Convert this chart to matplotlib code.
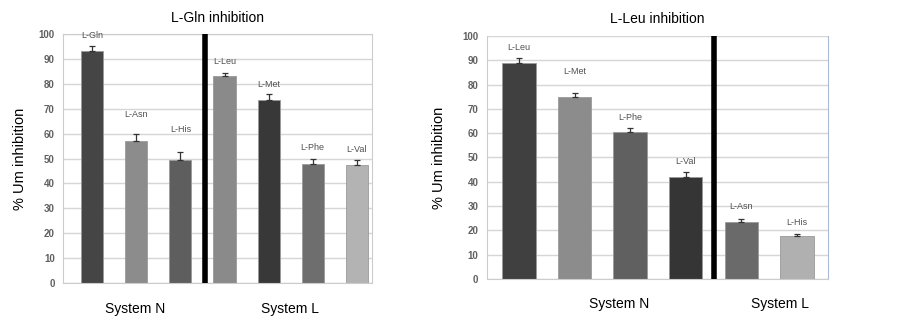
import matplotlib.pyplot as plt
import numpy as np

plt.rcParams['font.family'] = ['Liberation Sans', 'DejaVu Sans']

# left panel: L-Gln inhibition
gln_labels = ['L-Gln', 'L-Asn', 'L-His', 'L-Leu', 'L-Met', 'L-Phe', 'L-Val']
gln_values = [93, 57, 49.5, 83, 73.5, 48, 47.5]
gln_errors = [2, 3, 3, 1.5, 2.5, 2, 2]
gln_colors = ['#454545', '#8c8c8c', '#5e5e5e', '#8a8a8a', '#383838', '#6e6e6e', '#b3b3b3']
gln_label_pad = [2.5, 6, 7.5, 2.5, 2, 2.5, 2.5]

# right panel: L-Leu inhibition
leu_labels = ['L-Leu', 'L-Met', 'L-Phe', 'L-Val', 'L-Asn', 'L-His']
leu_values = [89, 75, 60.5, 42, 23.5, 17.5]
leu_errors = [2, 1.5, 1.5, 2, 1, 1]
leu_colors = ['#404040', '#8c8c8c', '#606060', '#353535', '#6a6a6a', '#b0b0b0']
leu_label_pad = [2.4, 7, 2.6, 2.5, 3.5, 3]

yticks = list(range(0, 101, 10))

fig = plt.figure(figsize=(9.03, 3.21), dpi=100)
ax1 = fig.add_axes([0.0698, 0.118, 0.342, 0.776])
ax2 = fig.add_axes([0.539, 0.131, 0.378, 0.757])


def draw_panel(ax, labels, values, errors, colors, pads, width, split, xlim, title, sys_n_x, sys_l_x):
    x = np.arange(len(values))
    ax.set_axisbelow(True)
    ax.grid(axis='y', color='#d6d6d6', linewidth=1)
    ax.bar(x, values, width=width, color=colors, edgecolor='#9a9a9a', linewidth=0.6, zorder=2)
    ax.errorbar(x, values, yerr=[np.zeros(len(errors)), errors], fmt='none',
                ecolor='#333333', elinewidth=0.9, capsize=2, capthick=0.9, zorder=3)
    for xi, v, e, p, lab in zip(x, values, errors, pads, labels):
        ax.text(xi, v + e + p, lab, ha='center', va='bottom', fontsize=6.5, color='#505050')
    ax.plot([split, split], [0, 100], color='black', linewidth=4, solid_capstyle='butt', zorder=4)
    ax.set_xlim(*xlim)
    ax.set_ylim(0, 100)
    ax.set_yticks(yticks)
    ax.set_xticks([])
    ax.tick_params(axis='y', length=0, labelsize=7, labelcolor='#606060', pad=6)
    for t in ax.get_yticklabels():
        t.set_fontweight('bold')
    for s in ax.spines.values():
        s.set_color('#cccccc')
        s.set_linewidth(0.8)
    ax.set_title(title, fontsize=10, pad=9)
    ax.set_ylabel('% Um inhibition', fontsize=10.5)
    ax.text(sys_n_x, -0.075, 'System N', transform=ax.transAxes, ha='center', va='top', fontsize=10)
    ax.text(sys_l_x, -0.075, 'System L', transform=ax.transAxes, ha='center', va='top', fontsize=10)


draw_panel(ax1, gln_labels, gln_values, gln_errors, gln_colors, gln_label_pad,
           0.5, 2.56, (-0.66, 6.34), 'L-Gln inhibition', 0.233, 0.735)
ax1.yaxis.labelpad = 8

draw_panel(ax2, leu_labels, leu_values, leu_errors, leu_colors, leu_label_pad,
           0.6, 3.5, (-0.58, 5.56), 'L-Leu inhibition', 0.387, 0.859)
ax2.yaxis.labelpad = 12
ax2.spines['right'].set_color('#a8bcd8')
ax2.spines['top'].set_visible(False)

fig.savefig('out.png', dpi=100)
